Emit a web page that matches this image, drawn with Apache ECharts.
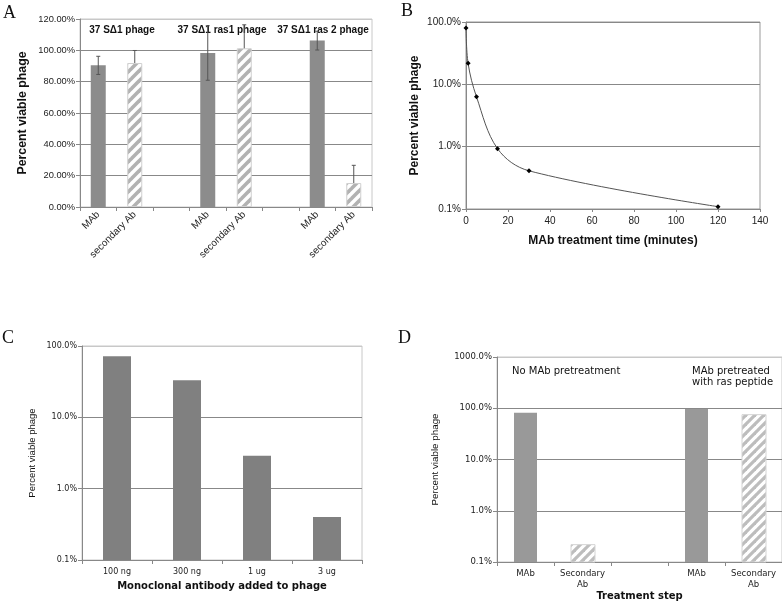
<!DOCTYPE html>
<html><head><meta charset="utf-8">
<script src="https://cdn.jsdelivr.net/npm/echarts@6/dist/echarts.min.js"></script>
<style>html,body{margin:0;padding:0;background:#fff}#c{width:782px;height:603px}</style>
</head><body><div id="c"></div>
<script>
// ---------- Panel A ----------
const aCategories = ['MAb', 'secondary Ab', '', 'MAb', 'secondary Ab', '', 'MAb', 'secondary Ab'];
const aMAb = [90.4, '-', '-', 98.3, '-', '-', 106.2, '-'];
const aSecondary = ['-', 91.9, '-', '-', 101.3, '-', '-', 15.3];
const aErrMAb = [5.8, null, null, 17.4, null, null, 6.0, null];
const aErrSecondary = [null, 8.0, null, null, 15.0, null, null, 11.3];
const aGroups = ['37 S\u03941 phage', '37 S\u03941 ras1 phage', '37 S\u03941 ras 2 phage'];
// ---------- Panel B ----------
const bTimes = [0, 1, 5, 15, 30, 120];
const bViable = [80, 21.7, 6.3, 0.93, 0.41, 0.109];
// ---------- Panel C ----------
const cCategories = ['100 ng', '300 ng', '1 ug', '3 ug'];
const cViable = [72, 33, 2.9, 0.40];
// ---------- Panel D ----------
const dCategories = ['MAb', 'Secondary\nAb', '', 'MAb', 'Secondary\nAb'];
const dMAb = [82, '-', '-', 96.6, '-'];
const dSecondary = ['-', 0.218, '-', '-', 75];
const dNotes = ['No MAb pretreatment', 'MAb pretreated\nwith ras peptide'];
const panelLetters = ['A', 'B', 'C', 'D'];
const logMin = 0.1;

const SANS = 'Liberation Sans, Arial, sans-serif';
const WIDE = 'DejaVu Sans, Verdana, sans-serif';
const TXT = '#222';

// diagonal hatch pattern "/"
function makeHatch(s, lw, col) {
  const cv = document.createElement('canvas');
  cv.width = s; cv.height = s;
  const g = cv.getContext('2d');
  g.fillStyle = '#fff'; g.fillRect(0, 0, s, s);
  g.strokeStyle = col; g.lineWidth = lw;
  for (const c of [0, s, 2 * s]) {
    g.beginPath(); g.moveTo(-s, c + s); g.lineTo(c + s, -s); g.stroke();
  }
  return { image: cv, repeat: 'repeat' };
}
const hatchA = makeHatch(10, 3.6, '#b2b2b2');
const hatchD = makeHatch(9, 3.2, '#bdbdbd');

function errData(vals, errs) {
  const out = [];
  errs.forEach((e, i) => { if (e != null) out.push([i, vals[i] - e, vals[i] + e]); });
  return out;
}
function errRender(params, api) {
  const x = api.value(0);
  const lo = api.coord([x, api.value(1)]);
  const hi = api.coord([x, api.value(2)]);
  const w = 4;
  const st = { stroke: '#555', lineWidth: 1 };
  return { type: 'group', children: [
    { type: 'line', shape: { x1: lo[0], y1: lo[1], x2: hi[0], y2: hi[1] }, style: st },
    { type: 'line', shape: { x1: hi[0] - w / 2, y1: hi[1], x2: hi[0] + w / 2, y2: hi[1] }, style: st },
    { type: 'line', shape: { x1: lo[0] - w / 2, y1: lo[1], x2: lo[0] + w / 2, y2: lo[1] }, style: st }
  ]};
}
// bars on a log axis, drawn from the axis minimum
function logBars(width, fill, stroke) {
  return function (params, api) {
    const i = api.value(0);
    const top = api.coord([i, api.value(1)]);
    const base = api.coord([i, logMin]);
    return { type: 'rect',
      shape: { x: Math.round(top[0] - width / 2), y: top[1], width: width, height: base[1] - top[1] },
      style: { fill: fill, stroke: stroke || null, lineWidth: stroke ? 1 : 0 } };
  };
}
const pairs = arr => arr.map((v, i) => [i, v]).filter(p => p[1] !== '-');
const aMAbVals = aMAb.map(v => v === '-' ? 0 : v);
const aSecVals = aSecondary.map(v => v === '-' ? 0 : v);

const axisLine = { lineStyle: { color: '#888', width: 1 } };
const logFmt = v => Number(v).toFixed(1) + '%';

const option = {
  animation: false,
  backgroundColor: '#fff',
  grid: [
    { left: 80, top: 19, width: 292, height: 188, show: true, borderColor: '#c8c8c8', borderWidth: 1 },
    { left: 466, top: 22, width: 294, height: 187, show: true, borderColor: '#999', borderWidth: 1 },
    { left: 82, top: 346, width: 280, height: 214, show: true, borderColor: '#c8c8c8', borderWidth: 1 },
    { left: 497, top: 357, width: 290, height: 205, show: true, borderColor: '#c8c8c8', borderWidth: 1 }
  ],
  xAxis: [
    { gridIndex: 0, type: 'category', data: aCategories,
      axisLine: axisLine, axisTick: { show: true, interval: 0, length: 4, lineStyle: { color: '#888' } },
      axisLabel: { interval: 0, rotate: 45, fontFamily: SANS, fontSize: 10, color: TXT, margin: 6 } },
    { gridIndex: 1, type: 'value', min: 0, max: 140, interval: 20,
      axisLine: axisLine, axisTick: { show: true, length: 3, lineStyle: { color: '#888' } },
      splitLine: { show: false },
      axisLabel: { fontFamily: SANS, fontSize: 10, color: TXT, margin: 7 },
      name: 'MAb treatment time (minutes)', nameLocation: 'middle', nameGap: 26,
      nameTextStyle: { fontFamily: SANS, fontSize: 12, fontWeight: 'bold', color: '#111' } },
    { gridIndex: 2, type: 'category', data: cCategories,
      axisLine: axisLine, axisTick: { show: true, interval: 0, length: 4, lineStyle: { color: '#888' } },
      axisLabel: { interval: 0, fontFamily: WIDE, fontSize: 8, color: TXT, margin: 8 },
      name: 'Monoclonal antibody added to phage', nameLocation: 'middle', nameGap: 21,
      nameTextStyle: { fontFamily: WIDE, fontSize: 10, fontWeight: 'bold', color: '#111' } },
    { gridIndex: 3, type: 'category', data: dCategories,
      axisLine: axisLine, axisTick: { show: true, interval: 0, length: 4, lineStyle: { color: '#888' } },
      axisLabel: { interval: 0, fontFamily: WIDE, fontSize: 8.5, color: TXT, margin: 6, lineHeight: 11 },
      name: 'Treatment step', nameLocation: 'middle', nameGap: 29,
      nameTextStyle: { fontFamily: WIDE, fontSize: 10, fontWeight: 'bold', color: '#111' } }
  ],
  yAxis: [
    { gridIndex: 0, type: 'value', min: 0, max: 120, interval: 20,
      axisLine: { show: true, lineStyle: { color: '#888' } },
      axisTick: { show: true, length: 4, lineStyle: { color: '#888' } },
      splitLine: { show: true, lineStyle: { color: ['#888', '#888', '#888', '#888', '#888', '#888', '#c8c8c8'] } },
      axisLabel: { fontFamily: SANS, fontSize: 9.3, color: TXT, margin: 5, formatter: v => v.toFixed(2) + '%' },
      name: 'Percent viable phage', nameLocation: 'middle', nameGap: 51,
      nameTextStyle: { fontFamily: SANS, fontSize: 12.3, fontWeight: 'bold', color: '#111' } },
    { gridIndex: 1, type: 'log', logBase: 10, min: logMin, max: 100,
      axisLine: { show: true, lineStyle: { color: '#888' } },
      axisTick: { show: true, length: 4, lineStyle: { color: '#888' } },
      minorTick: { show: false },
      splitLine: { show: true, lineStyle: { color: '#888' } },
      axisLabel: { fontFamily: SANS, fontSize: 10, color: TXT, margin: 5, formatter: logFmt },
      name: 'Percent viable phage', nameLocation: 'middle', nameGap: 45,
      nameTextStyle: { fontFamily: SANS, fontSize: 12, fontWeight: 'bold', color: '#111' } },
    { gridIndex: 2, type: 'log', logBase: 10, min: logMin, max: 100,
      axisLine: { show: true, lineStyle: { color: '#888' } },
      axisTick: { show: true, length: 4, lineStyle: { color: '#888' } },
      splitLine: { show: true, lineStyle: { color: ['#888', '#888', '#888', '#c8c8c8'] } },
      axisLabel: { fontFamily: WIDE, fontSize: 8, color: TXT, margin: 5, formatter: logFmt },
      name: 'Percent viable phage', nameLocation: 'middle', nameGap: 45,
      nameTextStyle: { fontFamily: SANS, fontSize: 9.5, color: '#111' } },
    { gridIndex: 3, type: 'log', logBase: 10, min: logMin, max: 1000,
      axisLine: { show: true, lineStyle: { color: '#888' } },
      axisTick: { show: true, length: 4, lineStyle: { color: '#888' } },
      splitLine: { show: true, lineStyle: { color: ['#888', '#888', '#888', '#888', '#c8c8c8'] } },
      axisLabel: { fontFamily: WIDE, fontSize: 8.5, color: TXT, margin: 5, formatter: logFmt },
      name: 'Percent viable phage', nameLocation: 'middle', nameGap: 57,
      nameTextStyle: { fontFamily: SANS, fontSize: 9.8, color: '#111' } }
  ],
  series: [
    { type: 'bar', xAxisIndex: 0, yAxisIndex: 0, data: aMAb, barWidth: 15, barGap: '-100%',
      itemStyle: { color: '#8c8c8c' }, z: 2 },
    { type: 'bar', xAxisIndex: 0, yAxisIndex: 0, data: aSecondary, barWidth: 15, barGap: '-100%',
      itemStyle: { color: hatchA, borderColor: '#d0d0d0', borderWidth: 1 }, z: 3 },
    { type: 'custom', xAxisIndex: 0, yAxisIndex: 0, data: errData(aMAbVals, aErrMAb), renderItem: errRender, z: 5 },
    { type: 'custom', xAxisIndex: 0, yAxisIndex: 0, data: errData(aSecVals, aErrSecondary), renderItem: errRender, z: 1 },
    { type: 'line', xAxisIndex: 1, yAxisIndex: 1, data: bTimes.map((t, i) => [t, bViable[i]]),
      smooth: 0.35, symbol: 'diamond', symbolSize: 5, showAllSymbol: true,
      lineStyle: { color: '#555', width: 1 }, itemStyle: { color: '#000', borderWidth: 0 } },
    { type: 'custom', xAxisIndex: 2, yAxisIndex: 2, data: pairs(cViable), renderItem: logBars(28, '#808080') },
    { type: 'custom', xAxisIndex: 3, yAxisIndex: 3, data: pairs(dMAb), renderItem: logBars(23, '#999999'), z: 2 },
    { type: 'custom', xAxisIndex: 3, yAxisIndex: 3, data: pairs(dSecondary), renderItem: logBars(24, hatchD, '#d4d4d4'), z: 3 }
  ],
  graphic: [
    { type: 'text', left: 3, top: 4, style: { text: panelLetters[0], font: '18px "Liberation Serif", serif', fill: '#111' } },
    { type: 'text', left: 401, top: 2, style: { text: panelLetters[1], font: '18px "Liberation Serif", serif', fill: '#111' } },
    { type: 'text', left: 2, top: 329, style: { text: panelLetters[2], font: '18px "Liberation Serif", serif', fill: '#111' } },
    { type: 'text', left: 398, top: 329, style: { text: panelLetters[3], font: '18px "Liberation Serif", serif', fill: '#111' } },
    { type: 'text', x: 122, y: 30, style: { text: aGroups[0], align: 'center', verticalAlign: 'middle', font: 'bold 10px "Liberation Sans", Arial', fill: '#111' } },
    { type: 'text', x: 222, y: 30, style: { text: aGroups[1], align: 'center', verticalAlign: 'middle', font: 'bold 10px "Liberation Sans", Arial', fill: '#111' } },
    { type: 'text', x: 323, y: 30, style: { text: aGroups[2], align: 'center', verticalAlign: 'middle', font: 'bold 10px "Liberation Sans", Arial', fill: '#111' } },
    { type: 'text', x: 512, y: 371, style: { text: dNotes[0], verticalAlign: 'middle', font: '10px "DejaVu Sans"', fill: '#111' } },
    { type: 'text', x: 692, y: 365.5, style: { text: dNotes[1], verticalAlign: 'top', lineHeight: 11, font: '10px "DejaVu Sans"', fill: '#111' } }
  ]
};
const chart = echarts.init(document.getElementById('c'), null, { renderer: 'canvas' });
chart.setOption(option);
</script></body></html>
